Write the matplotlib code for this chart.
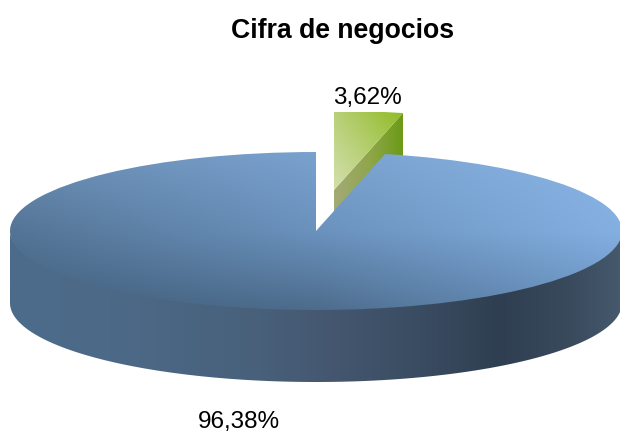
import numpy as np
import matplotlib
matplotlib.use("Agg")
import matplotlib.pyplot as plt
from matplotlib.colors import to_rgb
from matplotlib.patches import Polygon

title = "Cifra de negocios"
categories = ["Otros", "Principal"]
values = [3.62, 96.38]
labels = ["3,62%", "96,38%"]

W, H = 620, 434
CX, CY, RX, RY, DEPTH = 316, 231, 306, 79, 72
OFFX, OFFY = 18, 41


def X(p):
    return (p - CX) / RX


def Y(p):
    return (CY - p) / RY


def grid_gradient(ax, clip, box, rows, zorder):
    """box = (x0, x1, y0, y1) in pixels; rows = grid of colours, top row first."""
    g = np.array([[to_rgb(c) for c in r] for r in rows])
    nr, nc = g.shape[:2]
    n = 300
    ui = np.linspace(0, nc - 1, n)
    vi = np.linspace(0, nr - 1, n)
    by_col = np.stack([[np.interp(ui, np.arange(nc), g[r, :, k]) for k in range(3)]
                       for r in range(nr)])          # r, k, n
    img = np.zeros((n, n, 3))
    for j in range(n):
        for k in range(3):
            img[:, j, k] = np.interp(vi, np.arange(nr), by_col[:, k, j])
    im = ax.imshow(img, extent=(X(box[0]), X(box[1]), Y(box[3]), Y(box[2])),
                   origin="upper", aspect="auto", zorder=zorder, interpolation="bilinear")
    im.set_clip_path(clip)
    return im


def hgradient(ax, clip, box, stops, zorder):
    pos = [s[0] for s in stops]
    cols = np.array([to_rgb(s[1]) for s in stops])
    xs = np.linspace(box[0], box[1], 400)
    img = np.stack([np.interp(xs, pos, cols[:, i]) for i in range(3)], axis=-1)[None, :, :]
    im = ax.imshow(img, extent=(X(box[0]), X(box[1]), Y(box[3]), Y(box[2])),
                   origin="upper", aspect="auto", zorder=zorder, interpolation="bilinear")
    im.set_clip_path(clip)
    return im


fig = plt.figure(figsize=(W / 100, H / 100), dpi=100)
ax = fig.add_axes([0, 0, 1, 1])
plt.rcParams["font.family"] = ["Liberation Sans", "DejaVu Sans"]

# big slice at centre, small slice shifted (explosion drawn as separate pie)
wedges_main, _ = ax.pie(values, startangle=90, counterclock=False, radius=1,
                        center=(0, 0), colors=["none", "none"], frame=False)
wedges_off, _ = ax.pie(values, startangle=90, counterclock=False, radius=1,
                       center=(OFFX / RX, OFFY / RY), colors=["none", "none"], frame=False)
blue = wedges_main[1]
green = wedges_off[0]
for w in (*wedges_main, *wedges_off):
    w.set_linewidth(0)

ax.set_aspect("auto")
ax.set_xlim(X(0), X(W))
ax.set_ylim(Y(H), Y(0))
ax.axis("off")

d = DEPTH / RY

# green cut face, running from the apex to the rim end of the small slice
t_end = np.deg2rad(green.theta1)
gcx, gcy = green.center
gx, gy = gcx + np.cos(t_end), gcy + np.sin(t_end)
gface = Polygon([(gcx, gcy), (gx, gy), (gx, gy - d), (gcx, gcy - d)], closed=True,
                transform=ax.transData, fc="none", ec="none")
ax.add_patch(gface)
hgradient(ax, gface, (334, 403, 100, 300), [(334, "#a4aa78"), (370, "#8fa64a"), (403, "#6c9a16")], 1)

# green top
green.set_zorder(2)
grid_gradient(ax, green, (334, 403, 112, 190),
              [["#b9d07a", "#8fbb22"], ["#d3e0ac", "#b5cf72"]], 2)

# blue wall, front half of the ellipse (upper edge tucked under the top face)
t = np.linspace(np.pi, 2 * np.pi, 300)
wall_xy = np.r_[np.c_[np.cos(t), 0.9 * np.sin(t)], np.c_[np.cos(t[::-1]), np.sin(t[::-1]) - d]]
wall = Polygon(wall_xy, closed=True, transform=ax.transData, fc="none", ec="none")
ax.add_patch(wall)
hgradient(ax, wall, (10, 622, 200, 390),
          [(10, "#4d6b8a"), (110, "#4c6a88"), (260, "#48607a"), (340, "#44566e"),
           (420, "#3a4c61"), (500, "#2f3f51"), (570, "#394a5d"), (622, "#46596d")], 3)

# blue top
blue.set_zorder(4)
grid_gradient(ax, blue, (10, 622, 152, 310),
              [["#6b8eb5", "#7aa2cf", "#8ab5e6"],
               ["#547495", "#6a92bd", "#84afe1"],
               ["#43607e", "#4d6c8c", "#6a94c2"]], 4)

fam = ["Liberation Sans", "DejaVu Sans"]
ax.text(X(342.5), Y(31), title, fontsize=19.2, fontweight="bold", color="black",
        ha="center", va="center", family=fam, zorder=6)
ax.text(X(367), Y(98), labels[0], fontsize=17.5, color="black", ha="center", va="center",
        family=fam, zorder=6)
ax.text(X(239), Y(422), labels[1], fontsize=17.5, color="black", ha="center", va="center",
        family=fam, zorder=6)

fig.savefig("out.png", dpi=100)
